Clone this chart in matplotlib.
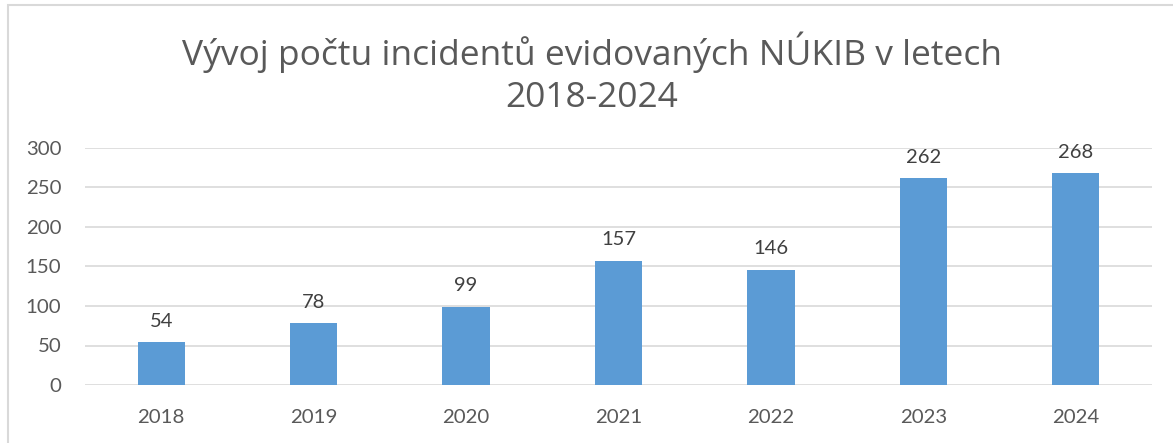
import matplotlib.pyplot as plt
from matplotlib.patches import Rectangle

years = ["2018", "2019", "2020", "2021", "2022", "2023", "2024"]
incidents = [54, 78, 99, 157, 146, 262, 268]
yticks = [0, 50, 100, 150, 200, 250, 300]

plt.rcParams['font.family'] = ['Lato', 'DejaVu Sans']

fig = plt.figure(figsize=(11.73, 4.43), dpi=100)
ax = fig.add_axes([85 / 1173, 58 / 443, 1067 / 1173, 237 / 443])

# chart frame
fig.patches.append(Rectangle((8 / 1173, -0.1), 1.2, (443 - 5) / 443 + 0.1,
                             transform=fig.transFigure, fill=False,
                             edgecolor="#d9d9d9", linewidth=1.5))

x = range(len(years))
bars = ax.bar(x, incidents, width=0.31, color="#5b9bd5", zorder=3)
for xi, v in zip(x, incidents):
    ax.annotate(str(v), (xi, v), xytext=(0, 9), textcoords="offset points",
                ha="center", va="bottom", fontsize=14.5, color="#404040")

ax.set_xlim(-0.5, len(years) - 0.5)
ax.set_ylim(0, 300)
ax.set_yticks(yticks)
ax.set_xticks(list(x))
ax.set_xticklabels(years)
ax.tick_params(axis="both", length=0, labelsize=14.7, labelcolor="#595959")
ax.tick_params(axis="x", pad=17)
ax.tick_params(axis="y", pad=17)
ax.yaxis.grid(True, color="#d9d9d9", linewidth=1.2, zorder=0)
for s in ax.spines.values():
    s.set_visible(False)

fig.text(592 / 1173, 1 - 73 / 443,
         "Vývoj počtu incidentů evidovaných NÚKIB v letech\n2018-2024",
         ha="center", va="center", fontsize=25.5, color="#595959",
         linespacing=1.3, family=["Open Sans", "DejaVu Sans"])

fig.savefig("out.png", dpi=100)
